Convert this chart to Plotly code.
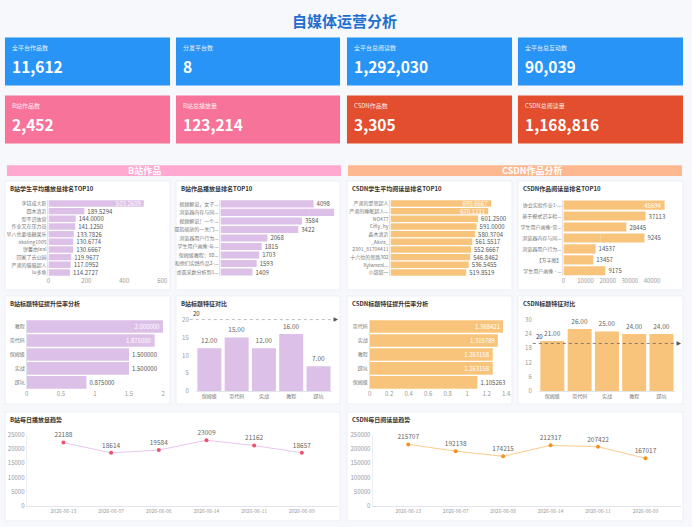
import plotly.graph_objects as go

W, H = 692, 527
FONT = "Noto Sans CJK SC"

# ---- data ----
kpi_labels = ['全平台作品数', '分发平台数', '全平台总阅读数', '全平台总互动数',
              'B站作品数', 'B站总播放量', 'CSDN作品数', 'CSDN总阅读量']
kpi_values = [11612, 8, 1292030, 90039, 2452, 123214, 3305, 1168816]

bili_stu_names = ['李钰成大影', '四木清沂', '型不识故营', '作业又在压力员', '早八也要嗑糖果乐',
                  'akaling1005', '饼馨由leal', '回家了去公园', '严肃的猫猫超人', 'lu多鱼']
bili_stu_avg = [503.2609, 189.5294, 144.0000, 141.1250, 133.7826,
                130.6774, 130.6667, 119.9677, 117.0952, 114.2727]

bili_work_titles = ['视频解说，女子...', '浏览器内存与同...', '视频解说！一个...', '双指缩放的一关门...',
                    '浏览器用户行为...', '浏览器内存与同...', '学生用户画像-年...', '保姆级教程：80...',
                    '和他们实践作品2-...', '桌面采数分析到1...']
bili_work_plays = [4098, 3901, 3584, 3422, 2068, 1852, 1815, 1703, 1593, 1409]

csdn_stu_names = ['严肃的是思超人', '严肃的睡眠超人...', 'NO477', 'Cifly_hy', '森木清沂',
                  '_Akira_', '2301_81704411', '十六位的思路302', 'Xylwneal...', '小甜甜一']
csdn_stu_avg = [690.6667, 670.1111, 601.2500, 591.0000, 580.3704,
                561.5517, 552.6667, 546.8462, 536.5455, 519.8519]

csdn_work_titles = ['协会实验作业1-...', '基于模式识字检...', '学生用户画像-常...', '浏览器内存与同...',
                    '浏览器用户行为...', '【万字图】', '浏览器内存与同...', '学生用户画像 - ...',
                    '浏览器内存与同...', '学生用户画像 - ...']
csdn_work_reads = [45694, 37113, 28445, 16790, 14537, 13457, 10562, 9773, 9245, 9175]

bili_rank_feats = ['教程', '带代码', '保姆级', '实战', '踩坑']
bili_rank_ratio = [2.0, 1.875, 1.5, 1.5, 0.875]
csdn_rank_feats = ['带代码', '实战', '教程', '踩坑', '保姆级']
csdn_rank_ratio = [1.368421, 1.315789, 1.263158, 1.263158, 1.105263]

feat_names = ['保姆级', '带代码', '实战', '教程', '踩坑']
bili_feat_avg = [12, 15, 12, 16, 7]
csdn_feat_avg = [21, 26, 25, 24, 24]
baseline = 20

dates = ['2026-06-13', '2026-06-07', '2026-06-08', '2026-06-14', '2026-06-11', '2026-06-09']
bili_daily = [22188, 18614, 19584, 23009, 21162, 18657]
csdn_daily = [215707, 192138, 174215, 212317, 207422, 167017]

# ---- colours ----
BLUE, PINK, RED = '#2894f6', '#f8739a', '#e24e2e'
PURPLE, ORANGE = '#dcc0e8', '#f8c47c'
TICK = '#999999'

fig = go.Figure()
shapes, annos, layout = [], [], {}


def X(x):
    return x / W


def Y(y):
    return 1 - y / H


def rect(x0, y0, x1, y1, fill, line=None):
    shapes.append(dict(type='rect', xref='paper', yref='paper', layer='below',
                       x0=X(x0), x1=X(x1), y0=Y(y1), y1=Y(y0), fillcolor=fill,
                       line=dict(width=1 if line else 0, color=line or fill)))


def label(x, y, s, size, color, bold=False, anchor='left'):
    annos.append(dict(xref='paper', yref='paper', x=X(x), y=Y(y), showarrow=False,
                      text='<b>%s</b>' % s if bold else s, xanchor=anchor, yanchor='middle',
                      borderpad=0, font=dict(size=size, color=color, family=FONT)))


def hbar(n, cats, vals, box, color, fmt, rng, cut, tickvals=None, width=0.83, showx=True):
    x0, y0, x1, y1 = box
    fig.add_trace(go.Bar(
        x=vals, y=cats, orientation='h', width=width,
        marker=dict(color=color, line=dict(width=0)),
        text=[fmt.format(v) for v in vals],
        textposition=['inside' if v >= cut else 'outside' for v in vals],
        insidetextanchor='end', textangle=0, constraintext='none', cliponaxis=False,
        textfont=dict(size=6, family=FONT),
        insidetextfont=dict(size=6, color='white', family=FONT),
        outsidetextfont=dict(size=6, color='#555', family=FONT),
        xaxis='x%d' % n, yaxis='y%d' % n, hoverinfo='skip'))
    layout['xaxis%d' % n] = dict(domain=[X(x0), X(x1)], anchor='y%d' % n, range=rng,
                                 tickvals=tickvals, tickformat='~r', showgrid=False,
                                 zeroline=False, showticklabels=showx,
                                 tickfont=dict(size=6, color=TICK))
    layout['yaxis%d' % n] = dict(domain=[Y(y1), Y(y0)], anchor='x%d' % n, type='category',
                                 autorange='reversed', showline=True, linecolor='#e3e3ea',
                                 ticks='', tickfont=dict(size=5, color='#777'))


def vbar(n, cats, vals, box, color, rng, dtick, line_x):
    x0, y0, x1, y1 = box
    fig.add_trace(go.Bar(
        x=cats, y=vals, width=0.88, marker=dict(color=color, line=dict(width=0)),
        text=['%.2f' % v for v in vals], textposition='outside', constraintext='none',
        cliponaxis=False, textfont=dict(size=6.5, color='#666', family=FONT),
        xaxis='x%d' % n, yaxis='y%d' % n, hoverinfo='skip'))
    layout['xaxis%d' % n] = dict(domain=[X(x0), X(x1)], anchor='y%d' % n, type='category',
                                 showline=True, linecolor='#e3e3ea', ticks='',
                                 tickfont=dict(size=5, color='#777'))
    layout['yaxis%d' % n] = dict(domain=[Y(y1), Y(y0)], anchor='x%d' % n, range=rng,
                                 dtick=dtick, showgrid=False, zeroline=False,
                                 ticklabelstandoff=6, tickfont=dict(size=6, color=TICK))
    shapes.append(dict(type='line', xref='paper', yref='y%d' % n,
                       x0=X(line_x[0]), x1=X(line_x[1] - 3), y0=baseline, y1=baseline,
                       line=dict(color='#666', width=0.8, dash='dot')))
    annos.append(dict(xref='paper', yref='y%d' % n, x=X(line_x[1]), y=baseline, text='',
                      showarrow=True, arrowhead=2, arrowsize=0.9, arrowwidth=1,
                      arrowcolor='#555', ax=-5, ay=0))
    annos.append(dict(xref='paper', yref='y%d' % n, x=X(line_x[0] + 2), y=baseline,
                      text=str(baseline), showarrow=False, xanchor='left', yanchor='bottom',
                      borderpad=0, yshift=1, font=dict(size=6, color='#333', family=FONT)))


def trend(n, cats, vals, box, lcolor, mcolor, rng, dtick, xr):
    x0, y0, x1, y1 = box
    fig.add_trace(go.Scatter(
        x=cats, y=vals, mode='lines+markers+text', text=[str(v) for v in vals],
        textposition='top center', cliponaxis=False,
        textfont=dict(size=6.5, color='#666', family=FONT),
        line=dict(color=lcolor, width=1), marker=dict(size=4, color=mcolor),
        xaxis='x%d' % n, yaxis='y%d' % n, hoverinfo='skip'))
    layout['xaxis%d' % n] = dict(domain=[X(x0), X(x1)], anchor='y%d' % n, type='category',
                                 range=xr, showline=True, linecolor='#e3e3ef', ticks='',
                                 tickfont=dict(size=5, color=TICK))
    layout['yaxis%d' % n] = dict(domain=[Y(y1), Y(y0)], anchor='x%d' % n, range=rng,
                                 dtick=dtick, tickformat='d', showgrid=False, zeroline=False,
                                 showline=True, linecolor='#eeeef5',
                                 tickfont=dict(size=6, color=TICK))


# ---- page title ----
label(346, 16, '自媒体运营分析', 15, '#1f6fd0', bold=True, anchor='center')

# ---- KPI cards ----
card_cols = [(3, 170), (176, 342), (349, 516), (522, 689)]
card_rows = [(33, 82), (92, 141)]
kpi_colors = [BLUE] * 4 + [PINK] * 2 + [RED] * 2
for i, (name, val) in enumerate(zip(kpi_labels, kpi_values)):
    cx0, cx1 = card_cols[i % 4]
    cy0, cy1 = card_rows[i // 4]
    rect(cx0, cy0, cx1, cy1, kpi_colors[i])
    label(cx0 + 6, cy0 + 10, name, 6, 'rgba(255,255,255,0.9)')
    label(cx0 + 6, cy0 + 29, '{:,}'.format(val), 15.5, 'white', bold=True)

# ---- section headers ----
rect(5, 163, 343, 174, '#ffa9d0')
label(144, 168.5, 'B站作品', 9, 'white', bold=True, anchor='center')
rect(350, 163, 688, 174, '#fdb890')
label(536, 168.5, 'CSDN作品分析', 9, 'white', bold=True, anchor='center')

# ---- panels ----
panels = [(3, 179, 170, 290), (176, 179, 342, 290), (349, 179, 516, 290), (522, 179, 689, 290),
          (3, 296, 170, 406), (176, 296, 342, 406), (349, 296, 516, 406), (522, 296, 689, 406),
          (3, 414, 342, 525), (349, 414, 689, 525)]
titles = ['B站学生平均播放量排名TOP10', 'B站作品播放量排名TOP10',
          'CSDN学生平均阅读量排名TOP10', 'CSDN作品阅读量排名TOP10',
          'B站标题特征提升倍率分析', 'B站标题特征对比',
          'CSDN标题特征提升倍率分析', 'CSDN标题特征对比',
          'B站每日播放量趋势', 'CSDN每日阅读量趋势']
for (px0, py0, px1, py1), t in zip(panels, titles):
    rect(px0, py0, px1, py1, 'white', line='#eceef5')
    label(px0 + 4, py0 + 8, t, 6, '#333', bold=True)

# ---- charts ----
hbar(1, bili_stu_names, bili_stu_avg, (47, 198, 162, 276), PURPLE, '{:.4f}', [0, 600], 450,
     tickvals=[0, 200, 400, 600])
hbar(2, bili_work_titles, bili_work_plays, (221, 198, 336, 276), PURPLE, '{}', [0, 5000], 4500,
     showx=False)
hbar(3, csdn_stu_names, csdn_stu_avg, (393, 198, 511, 276), ORANGE, '{:.4f}', [0, 800], 650,
     showx=False)
hbar(4, csdn_work_titles, csdn_work_reads, (568, 198, 680, 276), ORANGE, '{}', [0, 50000], 42000,
     tickvals=[0, 10000, 20000, 30000, 40000])

hbar(5, bili_rank_feats, bili_rank_ratio, (25, 320, 163, 391), PURPLE, '{:.6f}', [0, 2], 1.7,
     tickvals=[0, 0.5, 1, 1.5, 2], width=0.9)
hbar(7, csdn_rank_feats, csdn_rank_ratio, (372, 320, 510, 391), ORANGE, '{:.6f}', [0, 1.4], 1.2,
     tickvals=[0, 0.2, 0.4, 0.6, 0.8, 1, 1.2, 1.4], width=0.9)

vbar(6, feat_names, bili_feat_avg, (196, 320, 334, 393), PURPLE, [0, 20], 5, (190, 340))
vbar(8, feat_names, csdn_feat_avg, (543, 320, 681, 393), ORANGE, [0, 30], 6, (537, 687))

trend(9, dates, bili_daily, (25, 437, 340, 510), '#e8c6ee', '#f0506e', [0, 25000], 5000,
      [-0.77, 5.76])
trend(10, dates, csdn_daily, (375, 437, 687, 510), '#fdcb8c', '#f5901e', [0, 250000], 50000,
      [-0.75, 5.75])

fig.update_layout(
    width=W, height=H, margin=dict(l=0, r=0, t=0, b=0),
    paper_bgcolor='#f7f8fc', plot_bgcolor='rgba(0,0,0,0)',
    font=dict(family=FONT, size=6, color='#555'),
    showlegend=False, hovermode=False,
    shapes=shapes, annotations=annos, **layout)

fig.write_html("out.html", config={'displayModeBar': False},
               post_script="document.body.style.margin='0';")
